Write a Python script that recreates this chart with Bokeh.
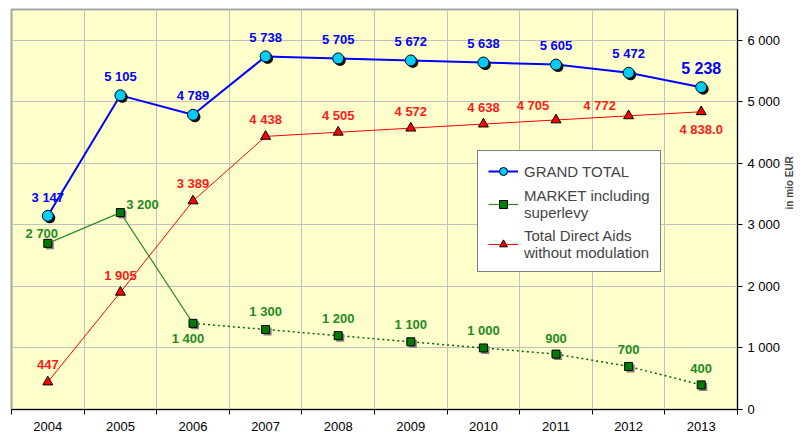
import math
from bokeh.plotting import figure
from bokeh.models import FixedTicker, Legend, LegendItem, ColumnDataSource
from bokeh.embed import file_html
from bokeh.resources import INLINE
from bokeh.core.properties import value

# ---- data ----
years = [2004, 2005, 2006, 2007, 2008, 2009, 2010, 2011, 2012, 2013]
grand_total = [3147, 5105, 4789, 5738, 5705, 5672, 5638, 5605, 5472, 5238]
market = [2700, 3200, 1400, 1300, 1200, 1100, 1000, 900, 700, 400]
direct_aids = [447, 1905, 3389, 4438, 4505, 4572, 4638, 4705, 4772, 4838]
y_ticks = [0, 1000, 2000, 3000, 4000, 5000, 6000]
series_names = ["GRAND TOTAL", "MARKET including\nsuperlevy", "Total Direct Aids\nwithout modulation"]
y_axis_title = "in mio EUR"


def fmt(v):
    return f"{v:,}".replace(",", " ")


grand_labels = [fmt(v) for v in grand_total]
market_labels = [fmt(v) for v in market]
direct_labels = [fmt(v) for v in direct_aids[:-1]] + [f"{direct_aids[-1]:,.1f}".replace(",", " ")]

FONT = "Liberation Sans"
FW, FH = 726, 400
X0, X1 = years[0] - 0.5, years[-1] + 0.5
Y0, Y1 = 0, 6500

p = figure(frame_width=FW, frame_height=FH, x_range=(X0, X1), y_range=(Y0, Y1),
           y_axis_location="right", output_backend="svg", toolbar_location=None,
           min_border_left=11, min_border_top=9, min_border_right=10, min_border_bottom=10)
p.background_fill_color = "#FFFFCC"
p.border_fill_color = "white"
p.outline_line_color = "#A6A6A6"
p.outline_line_width = 2

boundaries = [y - 0.5 for y in years] + [years[-1] + 0.5]

# x axis
p.xaxis.ticker = FixedTicker(ticks=years, minor_ticks=boundaries)
p.xaxis.major_label_overrides = {y: str(y) for y in years}
p.xaxis.major_tick_line_color = None
p.xaxis.major_tick_out = 0
p.xaxis.major_tick_in = 0
p.xaxis.minor_tick_line_color = "black"
p.xaxis.minor_tick_out = 5
p.xaxis.minor_tick_in = 0
p.xaxis.major_label_standoff = 7
p.xaxis.major_label_text_font = FONT
p.xaxis.major_label_text_font_size = "13px"
p.xaxis.major_label_text_color = "black"
p.xaxis.axis_line_color = "black"

# y axis (right)
p.yaxis.ticker = FixedTicker(ticks=y_ticks)
p.yaxis.major_label_overrides = {t: fmt(t) for t in y_ticks}
p.yaxis.minor_tick_line_color = None
p.yaxis.major_tick_in = 0
p.yaxis.major_tick_out = 5
p.yaxis.major_tick_line_color = "black"
p.yaxis.major_label_standoff = 5
p.yaxis.major_label_text_font = FONT
p.yaxis.major_label_text_font_size = "13px"
p.yaxis.major_label_text_color = "black"
p.yaxis.axis_line_color = "black"
p.yaxis.axis_label = y_axis_title
p.yaxis.axis_label_orientation = math.pi / 2
p.yaxis.axis_label_text_align = "center"
p.yaxis.axis_label_text_baseline = "middle"
p.yaxis.axis_label_text_font = FONT
p.yaxis.axis_label_text_font_style = "bold"
p.yaxis.axis_label_text_font_size = "10px"
p.yaxis.axis_label_standoff = 6

# grids
p.xgrid.ticker = FixedTicker(ticks=boundaries)
p.xgrid.grid_line_color = "#C0C0C0"
p.ygrid.grid_line_color = "#C0C0C0"

# pixel -> data conversion for shadows
sdx = (X1 - X0) / FW * 2
sdy = (Y1 - Y0) / FH * 2

# ---- lines ----
r_line = p.line(years, direct_aids, line_color="#FF0000", line_width=1)
g_line = p.line(years[:3], market[:3], line_color="#2E8B2E", line_width=1.2)
g_line2 = p.line(years[2:], market[2:], line_color="#006600", line_width=1.5, line_dash="2 3")
b_line = p.line(years, grand_total, line_color="#0000FF", line_width=2)

# ---- markers ----
p.scatter([x + sdx for x in years], [v - sdy for v in market], marker="square", size=8,
          fill_color="#7F7F7F", line_color=None)
g_pts = p.scatter(years, market, marker="square", size=8, fill_color="#007A00", line_color="black", line_width=1)
r_pts = p.scatter(years, direct_aids, marker="triangle", size=10, fill_color="#FF0000", line_color="black", line_width=1)
p.scatter([x + sdx for x in years], [v - sdy for v in grand_total], marker="circle", size=11,
          fill_color="#111111", line_color=None)
b_pts = p.scatter(years, grand_total, marker="circle", size=11, fill_color="#00CCFF", line_color="black", line_width=1)

# ---- value labels ----
gsrc = ColumnDataSource(dict(x=years, y=grand_total, t=grand_labels,
                             dx=[0] * 10, dy=[-18] + [-19] * 9,
                             fs=["13px"] * 9 + ["16px"]))
p.text("x", "y", text="t", x_offset="dx", y_offset="dy", text_font_size="fs", source=gsrc,
       text_font=value(FONT), text_font_style="bold", text_color="#0000FF",
       text_align="center", text_baseline="middle")

msrc = ColumnDataSource(dict(x=years, y=market, t=market_labels,
                             dx=[-6, 22, -5, 0, 0, 0, 0, 0, 0, 0],
                             dy=[-10, -8, 15, -18, -17, -17, -17, -16, -17, -16]))
p.text("x", "y", text="t", x_offset="dx", y_offset="dy", source=msrc,
       text_font=value(FONT), text_font_style="bold", text_font_size="13px", text_color="#1E8C1E",
       text_align="center", text_baseline="middle")

rsrc = ColumnDataSource(dict(x=years, y=direct_aids, t=direct_labels,
                             dx=[0, 0, 0, 0, 0, 0, 0, -23, -29, 0],
                             dy=[-17, -17, -17, -17, -17, -17, -17, -14, -10, 18]))
p.text("x", "y", text="t", x_offset="dx", y_offset="dy", source=rsrc,
       text_font=value(FONT), text_font_style="bold", text_font_size="13px", text_color="#FF1A1A",
       text_align="center", text_baseline="middle")

# ---- legend ----
legend = Legend(items=[
    LegendItem(label=series_names[0], renderers=[b_line, b_pts]),
    LegendItem(label=series_names[1], renderers=[g_line, g_pts]),
    LegendItem(label=series_names[2], renderers=[r_line, r_pts]),
], location=(466, 137))
legend.background_fill_color = "white"
legend.background_fill_alpha = 1
legend.border_line_color = "black"
legend.border_line_width = 1
legend.label_text_font = FONT
legend.label_text_font_size = "15px"
legend.glyph_width = 30
legend.label_standoff = 6
legend.padding = 10
legend.spacing = 6
legend.margin = 0
p.add_layout(legend)

open("out.html", "w").write(file_html(p, INLINE))
